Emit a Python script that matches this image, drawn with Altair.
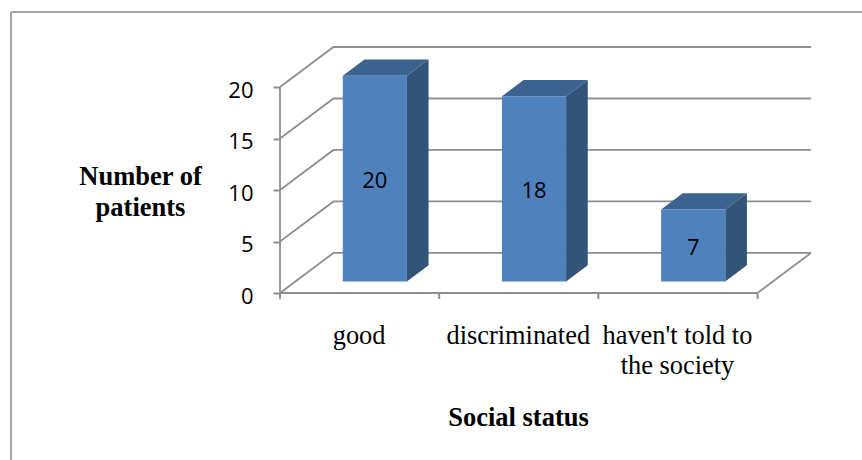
import altair as alt
import pandas as pd

# Chart values
categories = ["good", "discriminated", "haven't told to the society"]
patients = [20, 18, 7]
y_ticks = [0, 5, 10, 15, 20]

# Oblique projection of the 3D box: one unit of depth shifts a point by this
# much along each data axis.
DEPTH_X = 0.336
DEPTH_Y = 3.89
BAR_WIDTH = 0.403
BAR_DEPTH = (0.285, 0.69)

GRID = "#8f8f8f"
FRONT = "#4f81bd"
TOP = "#3c628f"
SIDE = "#335479"
SERIF = "Liberation Serif"
SANS = "Open Sans"

WIDTH = 531
HEIGHT = 246
LEFT = 280
TOP_PAD = 47


def project(x, v, depth):
    return x + depth * DEPTH_X, v + depth * DEPTH_Y


# Gridlines wrap from the front of the value axis, along the side wall,
# then across the back wall.
grid_rows = []
for tick in y_ticks:
    for order, (x, depth) in enumerate([(0, 0), (0, 1), (3, 1)]):
        px, py = project(x, tick, depth)
        grid_rows.append({"line": f"g{tick}", "order": order, "x": px, "y": py})
# Right edge of the floor and the floor's front edge
for line, pts in {"floor_r": [(3, 0), (3, 1)], "base": [(0, 0), (3, 0)]}.items():
    for order, (x, depth) in enumerate(pts):
        px, py = project(x, 0, depth)
        grid_rows.append({"line": line, "order": order, "x": px, "y": py})
# Vertical value axis line
for order, v in enumerate([0, y_ticks[-1]]):
    grid_rows.append({"line": "axis", "order": order, "x": 0, "y": v})
grid_df = pd.DataFrame(grid_rows)

near, far = BAR_DEPTH
front_rows, side_rows, top_rows, label_rows = [], [], [], []
for i, value in enumerate(patients):
    left = i + 0.5 - BAR_WIDTH / 2
    right = i + 0.5 + BAR_WIDTH / 2
    x0, b0 = project(left, 0, near)
    x1, t0 = project(right, value, near)
    front_rows.append({"x": x0, "x2": x1, "y": b0, "y2": t0})
    label_rows.append({"x": (x0 + x1) / 2, "y": (b0 + t0) / 2, "value": value})

    # Side face
    x2, b1 = project(right, 0, far)
    _, t1 = project(right, value, far)
    side_rows += [
        {"bar": i, "x": x1, "lo": b0, "hi": t0},
        {"bar": i, "x": x2, "lo": b1, "hi": t1},
    ]

    # Top face, described by its lower and upper outlines
    x3, _ = project(left, 0, far)
    top_rows += [
        {"bar": i, "x": x0, "lo": t0, "hi": t0},
        {"bar": i, "x": x3, "lo": t0, "hi": t1},
        {"bar": i, "x": x1, "lo": t0, "hi": t1},
        {"bar": i, "x": x2, "lo": t1, "hi": t1},
    ]

front_df = pd.DataFrame(front_rows)
side_df = pd.DataFrame(side_rows)
top_df = pd.DataFrame(top_rows)
label_df = pd.DataFrame(label_rows)

x_scale = alt.Scale(domain=[0, 3 + DEPTH_X], nice=False, zero=False)
y_scale = alt.Scale(domain=[0, y_ticks[-1] + DEPTH_Y], nice=False, zero=False)
x_enc = alt.X("x:Q", scale=x_scale, axis=None)
y_enc = alt.Y("y:Q", scale=y_scale, axis=None)

label_expr = (
    "datum.value < 1 ? 'good' : datum.value < 2 ? 'discriminated' "
    ": ['haven\\'t told to', 'the society']"
)

# Carries the real axes: category labels, value ticks and both titles
axes = (
    alt.Chart(pd.DataFrame({"x": [0.5, 1.5, 2.5], "y": [0, 0, 0]}))
    .mark_point(opacity=0)
    .encode(
        x=alt.X(
            "x:Q",
            scale=x_scale,
            axis=alt.Axis(
                values=[0.5, 1.5, 2.5],
                labelExpr=label_expr,
                title="Social status",
                titleFont=SERIF,
                titleFontSize=26.5,
                titleFontWeight="bold",
                titleColor="#000000",
                titleX=238,
                titleY=111,
                labelFont=SERIF,
                labelFontSize=26.4,
                labelColor="#000000",
                labelPadding=29,
                labelLineHeight=30,
                labelOffset=-1,
                labelOverlap=False,
                labelFlush=False,
                ticks=False,
                domain=False,
                grid=False,
            ),
        ),
        y=alt.Y(
            "y:Q",
            scale=y_scale,
            axis=alt.Axis(
                values=y_ticks,
                title=["Number of", "patients"],
                titleAngle=0,
                titleFont=SERIF,
                titleFontSize=26.5,
                titleFontWeight="bold",
                titleColor="#000000",
                titleAlign="center",
                titleBaseline="middle",
                titleX=-140,
                titleY=129,
                titleLineHeight=31,
                labelFont=SANS,
                labelFontSize=22,
                labelColor="#000000",
                labelPadding=20,
                labelOffset=3,
                tickSize=7,
                tickColor=GRID,
                tickWidth=2,
                domain=False,
                grid=False,
            ),
        ),
    )
)

grid = (
    alt.Chart(grid_df)
    .mark_line(color=GRID, strokeWidth=1.8)
    .encode(x=x_enc, y=y_enc, detail="line:N", order="order:Q")
)

# Small ticks below the category axis
x_ticks = (
    alt.Chart(pd.DataFrame({"x": [0, 1, 2, 3]}))
    .mark_rule(color=GRID, strokeWidth=2)
    .encode(x=x_enc, y=alt.value(HEIGHT), y2=alt.value(HEIGHT + 6))
)

side = (
    alt.Chart(side_df)
    .mark_area(color=SIDE)
    .encode(x=x_enc, y=alt.Y("lo:Q", scale=y_scale, axis=None), y2="hi:Q", detail="bar:N")
)
top = (
    alt.Chart(top_df)
    .mark_area(color=TOP)
    .encode(x=x_enc, y=alt.Y("lo:Q", scale=y_scale, axis=None), y2="hi:Q", detail="bar:N")
)
front = (
    alt.Chart(front_df)
    .mark_rect(color=FRONT)
    .encode(x=x_enc, x2="x2:Q", y=y_enc, y2="y2:Q")
)
labels = (
    alt.Chart(label_df)
    .mark_text(font=SANS, fontSize=22, color="#000000", dy=2)
    .encode(x=x_enc, y=y_enc, text="value:Q")
)

# Outer frame: top and left edges
frame_top = (
    alt.Chart(pd.DataFrame({"k": [0]}))
    .mark_rule(color="#a6a6a6", strokeWidth=2)
    .encode(
        x=alt.value(11 - LEFT),
        x2=alt.value(862 - LEFT),
        y=alt.value(12 - TOP_PAD),
    )
)
frame_left = (
    alt.Chart(pd.DataFrame({"k": [0]}))
    .mark_rule(color="#a6a6a6", strokeWidth=2)
    .encode(
        x=alt.value(11 - LEFT),
        y=alt.value(12 - TOP_PAD),
        y2=alt.value(460 - TOP_PAD),
    )
)

chart = (
    alt.layer(frame_top, frame_left, axes, grid, x_ticks, side, top, front, labels)
    .resolve_axis(x="independent", y="independent")
    .properties(
        width=WIDTH,
        height=HEIGHT,
        autosize=alt.AutoSizeParams(type="none"),
        padding={
            "left": LEFT,
            "top": TOP_PAD,
            "right": 862 - LEFT - WIDTH,
            "bottom": 460 - TOP_PAD - HEIGHT,
        },
        background="#ffffff",
    )
    .configure_view(stroke=None)
)

chart.save("out.html", embed_options={"renderer": "svg", "actions": False})
